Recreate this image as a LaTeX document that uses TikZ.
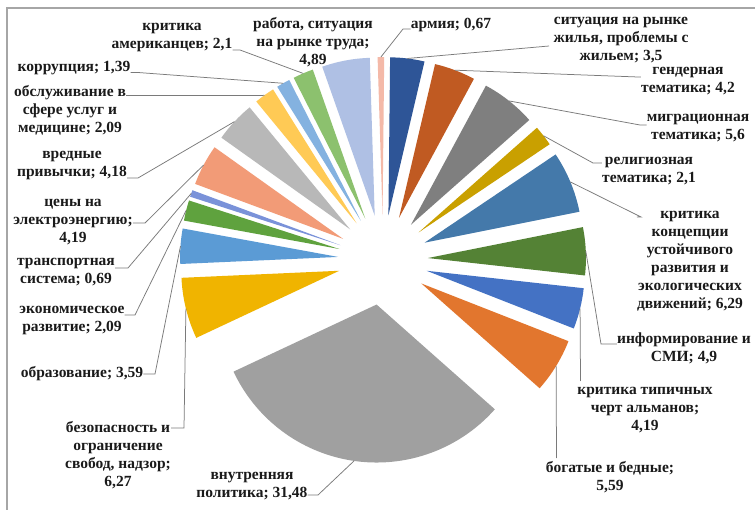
\documentclass[tikz,border=0pt]{standalone}
\usepackage{fontspec}
\setmainfont{Liberation Serif}
\definecolor{c1}{HTML}{F4B9A8}
\definecolor{c2}{HTML}{2E5597}
\definecolor{c3}{HTML}{C05A22}
\definecolor{c4}{HTML}{7F7F7F}
\definecolor{c5}{HTML}{C9A000}
\definecolor{c6}{HTML}{4479AA}
\definecolor{c7}{HTML}{548235}
\definecolor{c8}{HTML}{4472C4}
\definecolor{c9}{HTML}{E2762E}
\definecolor{c10}{HTML}{A0A0A0}
\definecolor{c11}{HTML}{F0B400}
\definecolor{c12}{HTML}{5B9BD5}
\definecolor{c13}{HTML}{5FA23E}
\definecolor{c14}{HTML}{7A92D9}
\definecolor{c15}{HTML}{F29B77}
\definecolor{c16}{HTML}{B8B8B8}
\definecolor{c17}{HTML}{FFCA55}
\definecolor{c18}{HTML}{84B2E0}
\definecolor{c19}{HTML}{8CC16E}
\definecolor{c20}{HTML}{AFC0E4}
\definecolor{framegray}{HTML}{A6A6A6}
\definecolor{leadgray}{HTML}{7A7A7A}
\definecolor{txt}{HTML}{1A1A1A}
\newcommand\mkslice[4]{%
  \pgfmathsetmacro\pmid{(#2+#3)/2}%
  \fill[#1] (\pmid:45) -- ++(#2:158) arc[start angle=#2, end angle=#3, radius=158] -- cycle;
  \coordinate (#4) at (\pmid:203);
}
\begin{document}
\begin{tikzpicture}[x=1pt,y=-1pt,
  lbl/.style={align=center, inner sep=0pt, text=txt,
    font=\fontsize{15.5}{18}\selectfont\bfseries},
  leader/.style={draw=leadgray, line width=0.75pt}]
\useasboundingbox (0,0) rectangle (755,510);
\fill[white] (0,0) rectangle (755,510);
% frame
\draw[framegray, line width=1.5pt] (6,8) -- (755,8);
\draw[framegray, line width=1.5pt] (7,8) -- (7,510);
% slices
\begin{scope}[shift={(383,260)}, yscale=-1]
\mkslice{c1}{91.8}{89.39}{p1}
\mkslice{c2}{89.39}{76.79}{p2}
\mkslice{c3}{76.79}{61.67}{p3}
\mkslice{c4}{61.67}{41.51}{p4}
\mkslice{c5}{41.51}{33.95}{p5}
\mkslice{c6}{33.95}{11.30}{p6}
\mkslice{c7}{11.30}{-6.34}{p7}
\mkslice{c8}{-6.34}{-21.42}{p8}
\mkslice{c9}{-21.42}{-41.54}{p9}
\mkslice{c10}{-41.54}{-154.87}{p10}
\mkslice{c11}{-154.87}{-177.44}{p11}
\mkslice{c12}{-177.44}{-190.37}{p12}
\mkslice{c13}{-190.37}{-197.89}{p13}
\mkslice{c14}{-197.89}{-200.38}{p14}
\mkslice{c15}{-200.38}{-215.46}{p15}
\mkslice{c16}{-215.46}{-230.51}{p16}
\mkslice{c17}{-230.51}{-238.03}{p17}
\mkslice{c18}{-238.03}{-243.04}{p18}
\mkslice{c19}{-243.04}{-250.60}{p19}
\mkslice{c20}{-250.60}{-268.2}{p20}
\end{scope}
% labels
\node[lbl] (l1) at (451,25) {армия; 0,67};
\node[lbl] (l2) at (621,40) {ситуация на рынке\\жилья, проблемы с\\жильем; 3,5};
\node[lbl] (l3) at (688,81) {гендерная\\тематика; 4,2};
\node[lbl] (l4) at (698,128.5) {миграционная\\тематика; 5,6};
\node[lbl] (l5) at (649,171.5) {религиозная\\тематика; 2,1};
\node[lbl] (l6) at (690,261) {критика\\концепции\\устойчивого\\развития и\\экологических\\движений; 6,29};
\node[lbl] (l7) at (684,348.5) {информирование и\\СМИ; 4,9};
\node[lbl] (l8) at (645,410) {критика типичных\\черт альманов;\\4,19};
\node[lbl] (l9) at (610,477.5) {богатые и бедные;\\5,59};
\node[lbl] (l10) at (252,486) {внутренняя\\политика; 31,48};
\node[lbl] (l11) at (118,455.5) {безопасность и\\ограничение\\свобод, надзор;\\6,27};
\node[lbl] (l12) at (82,374) {образование; 3,59};
\node[lbl] (l13) at (72,320) {экономическое\\развитие; 2,09};
\node[lbl] (l14) at (66,272.5) {транспортная\\система; 0,69};
\node[lbl] (l15) at (73,222) {цены на\\электроэнергию;\\4,19};
\node[lbl] (l16) at (72,166) {вредные\\привычки; 4,18};
\node[lbl] (l17) at (70,110.5) {обслуживание в\\сфере услуг и\\медицине; 2,09};
\node[lbl] (l18) at (74,68) {коррупция; 1,39};
\node[lbl] (l19) at (172,37.5) {критика\\американцев; 2,1};
\node[lbl] (l20) at (313,42) {работа, ситуация\\на рынке труда;\\4,89};
% leader elbows
\coordinate (e1) at (403,29);
\coordinate (e2) at (549,46);
\coordinate (e3) at (638,77);
\coordinate (e4) at (640,125);
\coordinate (e5) at (593,163);
\coordinate (e6) at (641,217);
\coordinate (e7) at (601,344);
\coordinate (e8) at (580.5,381);
\coordinate (e9) at (556.5,458);
\coordinate (e10) at (318,495);
\coordinate (e11) at (184,428);
\coordinate (e12) at (155,374);
\coordinate (e13) at (135,315);
\coordinate (e14) at (128,268);
\coordinate (e15) at (145,223);
\coordinate (e16) at (138,178);
\coordinate (e17) at (262,95.5);
\coordinate (e18) at (138,72.5);
\coordinate (e19) at (240,50);
% leaders
\draw[leader] (p1) -- (e1) -- (l1.west |- e1);
\draw[leader] (p2) -- (e2);
\draw[leader] (p3) -- (e3) -- (l3.west |- e3);
\draw[leader] (p4) -- (e4) -- (l4.west |- e4);
\draw[leader] (p5) -- (e5) -- (l5.west |- e5);
\draw[leader] (p6) -- (e6) -- (l6.west |- e6);
\draw[leader] (p7) -- (e7) -- (l7.west |- e7);
\draw[leader] (p8) -- (e8);
\draw[leader] (p9) -- (e9);
\draw[leader] (p10) -- (e10) -- (l10.east |- e10);
\draw[leader] (p11) -- (e11) -- (l11.east |- e11);
\draw[leader] (p12) -- (e12) -- (l12.east |- e12);
\draw[leader] (p13) -- (e13) -- (l13.east |- e13);
\draw[leader] (p14) -- (e14) -- (l14.east |- e14);
\draw[leader] (p15) -- (e15) -- (l15.east |- e15);
\draw[leader] (p16) -- (e16) -- (l16.east |- e16);
\draw[leader] (p17) -- (e17) -- (l17.east |- e17);
\draw[leader] (p18) -- (e18) -- (l18.east |- e18);
\draw[leader] (p19) -- (e19) -- (l19.east |- e19);
\end{tikzpicture}
\end{document}
